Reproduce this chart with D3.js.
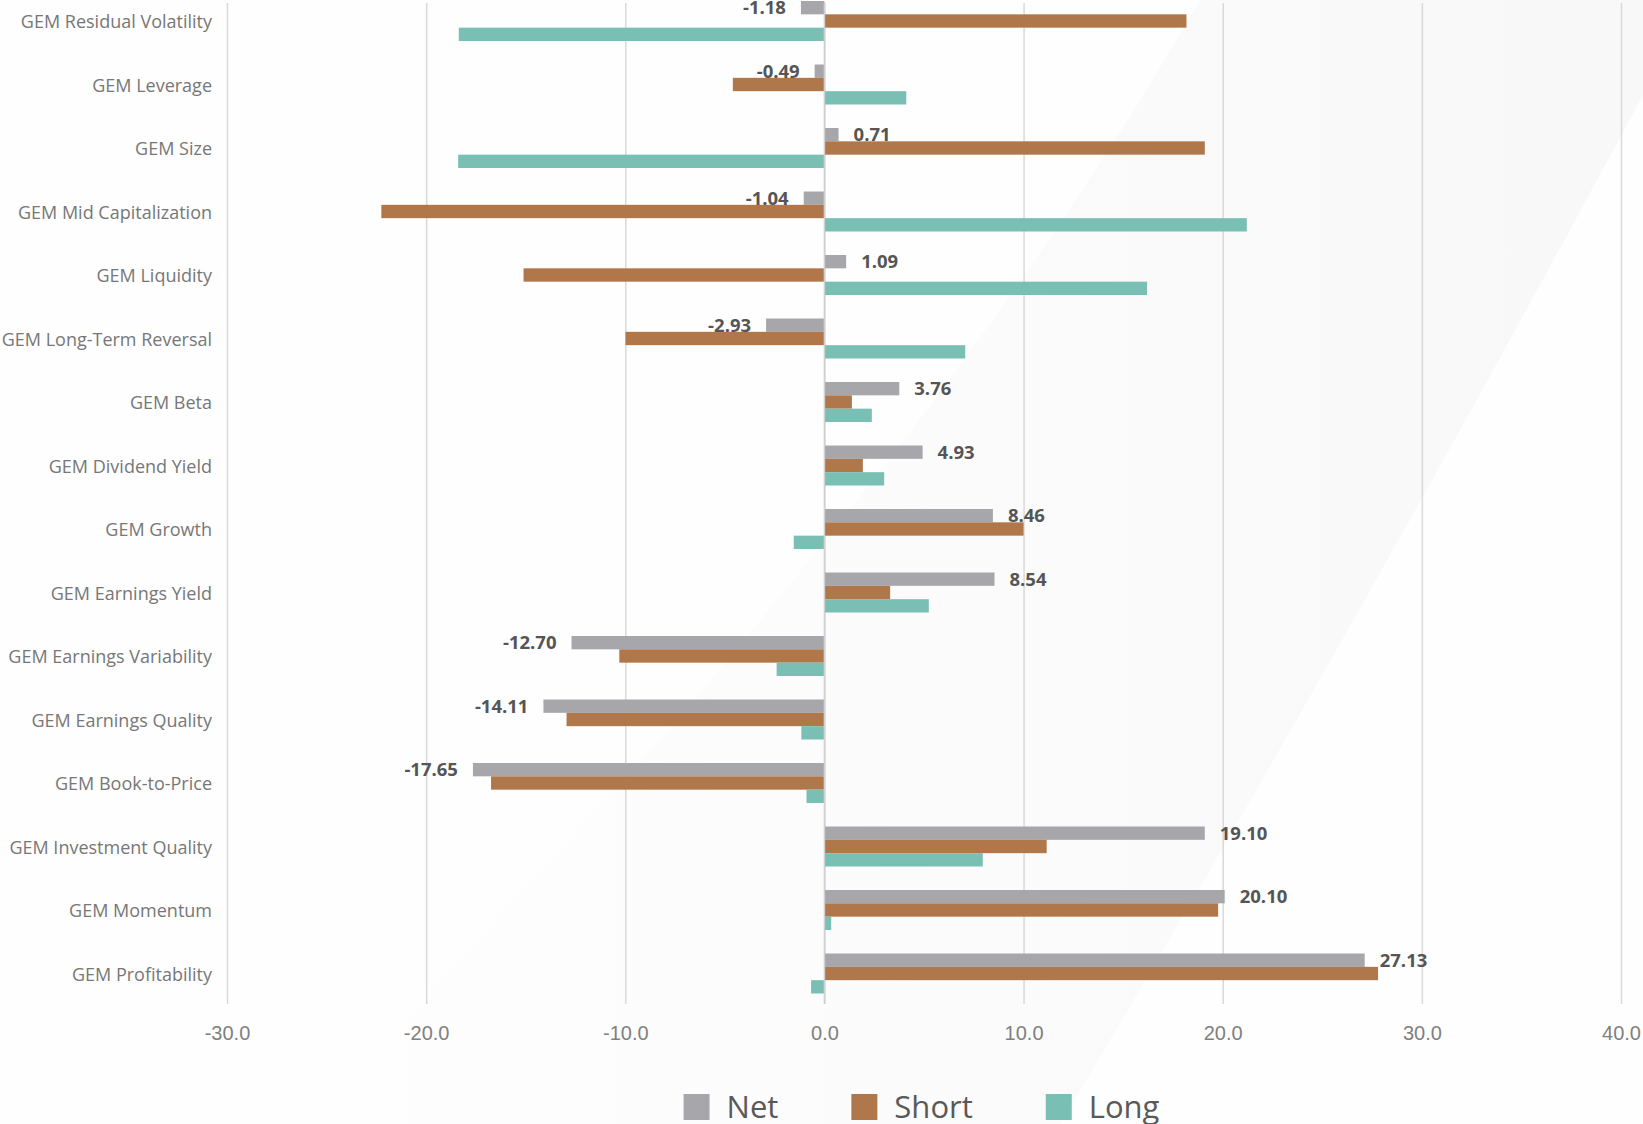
<!DOCTYPE html>
<html>
<head>
<meta charset="utf-8">
<script src="https://cdn.jsdelivr.net/npm/d3@7"></script>
<style>
  html, body { margin: 0; padding: 0; background: #ffffff; }
  svg { display: block; font-family: "Open Sans", "Noto Sans", sans-serif; }
</style>
</head>
<body>
<script>
// Factor exposures, top to bottom as shown
const categories = [
  "GEM Residual Volatility", "GEM Leverage", "GEM Size", "GEM Mid Capitalization",
  "GEM Liquidity", "GEM Long-Term Reversal", "GEM Beta", "GEM Dividend Yield",
  "GEM Growth", "GEM Earnings Yield", "GEM Earnings Variability", "GEM Earnings Quality",
  "GEM Book-to-Price", "GEM Investment Quality", "GEM Momentum", "GEM Profitability"
];
const netValues   = [-1.18, -0.49, 0.71, -1.04, 1.09, -2.93, 3.76, 4.93, 8.46, 8.54, -12.70, -14.11, -17.65, 19.10, 20.10, 27.13];
const shortValues = [18.18, -4.60, 19.10, -22.25, -15.11, -9.99, 1.38, 1.93, 10.00, 3.30, -10.30, -12.95, -16.74, 11.16, 19.77, 27.80];
const longValues  = [-18.36, 4.11, -18.39, 21.21, 16.20, 7.07, 2.38, 3.00, -1.54, 5.24, -2.40, -1.16, -0.90, 7.95, 0.34, -0.67];
const seriesNames = ["Net", "Short", "Long"];
const xTicks = [-30, -20, -10, 0, 10, 20, 30, 40];

const W = 1643, H = 1124;

const svg = d3.select("body").append("svg")
  .attr("width", W)
  .attr("height", H);

// faint background swoosh, fading out to the left
const defs = svg.append("defs");
const grad = defs.append("linearGradient")
  .attr("id", "swoosh")
  .attr("x1", "0%").attr("x2", "100%")
  .attr("y1", "0%").attr("y2", "0%");
grad.append("stop").attr("offset", "0%").attr("stop-color", "#000").attr("stop-opacity", 0);
grad.append("stop").attr("offset", "100%").attr("stop-color", "#000").attr("stop-opacity", 0.025);

svg.append("rect").attr("width", W).attr("height", H).attr("fill", "#fefefe");
svg.append("path")
  .attr("d", "M300,1124 Q900,520 1200,0 L1643,0 L1643,95 Q1350,640 1060,1124 Z")
  .attr("fill", "url(#swoosh)");

const color = d3.scaleOrdinal()
  .domain(seriesNames)
  .range(["#a7a7ab", "#b0774a", "#79bfb3"]);

const x = d3.scaleLinear()
  .domain([-30, 40])
  .range([227, 1621]);

const y0 = d3.scaleBand()
  .domain(categories)
  .range([-10.75, 1005.25]);

const groupH = 40;
const y1 = d3.scaleBand()
  .domain(seriesNames)
  .range([0, groupH]);

const groupOffset = (y0.step() - groupH) / 2;

// gridlines + tick labels
const gridTop = 3, gridBottom = 1004;
const xAxis = svg.append("g")
  .attr("transform", `translate(0,${gridBottom})`)
  .call(d3.axisBottom(x)
    .tickValues(xTicks)
    .tickSize(-(gridBottom - gridTop))
    .tickFormat(d => d.toFixed(1)));
xAxis.select(".domain").remove();
xAxis.selectAll(".tick line")
  .attr("stroke", "#d9d9d9")
  .attr("stroke-width", 1.5);
xAxis.selectAll(".tick text")
  .attr("y", 29)
  .attr("dy", "0.35em")
  .attr("fill", "#808080")
  .style("font-size", "20px");

// category labels
svg.append("g")
  .selectAll("text")
  .data(categories)
  .enter()
  .append("text")
  .attr("x", 212)
  .attr("y", d => y0(d) + y0.bandwidth() / 2 + 1)
  .attr("dy", "0.35em")
  .attr("text-anchor", "end")
  .attr("fill", "#777777")
  .style("font-size", "18px")
  .text(d => d);

// rows of bars
const rows = categories.map((c, i) => ({
  cat: c,
  vals: [
    { key: "Net", v: netValues[i] },
    { key: "Short", v: shortValues[i] },
    { key: "Long", v: longValues[i] }
  ]
}));

const groups = svg.append("g")
  .selectAll("g")
  .data(rows)
  .enter()
  .append("g")
  .attr("transform", d => `translate(0,${y0(d.cat) + groupOffset})`);

groups.selectAll("rect")
  .data(d => d.vals)
  .enter()
  .append("rect")
  .attr("x", d => x(Math.min(0, d.v)))
  .attr("y", d => y1(d.key))
  .attr("width", d => Math.abs(x(d.v) - x(0)))
  .attr("height", y1.bandwidth())
  .attr("fill", d => color(d.key));

// labels on Net bars
groups.append("text")
  .attr("x", d => d.vals[0].v >= 0 ? x(d.vals[0].v) + 15 : x(d.vals[0].v) - 15)
  .attr("y", y1("Net") + y1.bandwidth() / 2)
  .attr("dy", "0.35em")
  .attr("text-anchor", d => d.vals[0].v >= 0 ? "start" : "end")
  .attr("fill", "#555555")
  .style("font-size", "18.5px")
  .style("font-weight", "bold")
  .text(d => d.vals[0].v.toFixed(2));

// zero line
svg.append("line")
  .attr("x1", x(0)).attr("x2", x(0))
  .attr("y1", gridTop).attr("y2", gridBottom)
  .attr("stroke", "#d0d0d0")
  .attr("stroke-width", 1.5);

// legend
const legend = svg.append("g");
const sq = 26, gapText = 17, gapItem = 73, legendY = 1107;
const items = legend.selectAll("g")
  .data(seriesNames)
  .enter()
  .append("g");

items.append("rect")
  .attr("width", sq)
  .attr("height", sq)
  .attr("y", legendY - sq / 2)
  .attr("fill", d => color(d));

items.append("text")
  .attr("x", sq + gapText)
  .attr("y", legendY)
  .attr("dy", "0.35em")
  .attr("fill", "#595959")
  .style("font-size", "31px")
  .text(d => d);

let widths = [];
items.each(function() {
  widths.push(sq + gapText + d3.select(this).select("text").node().getComputedTextLength());
});
const total = d3.sum(widths) + gapItem * (widths.length - 1);
let cx = 921.5 - total / 2;
items.attr("transform", (d, i) => {
  const t = `translate(${cx},0)`;
  cx += widths[i] + gapItem;
  return t;
});
</script>
</body>
</html>
